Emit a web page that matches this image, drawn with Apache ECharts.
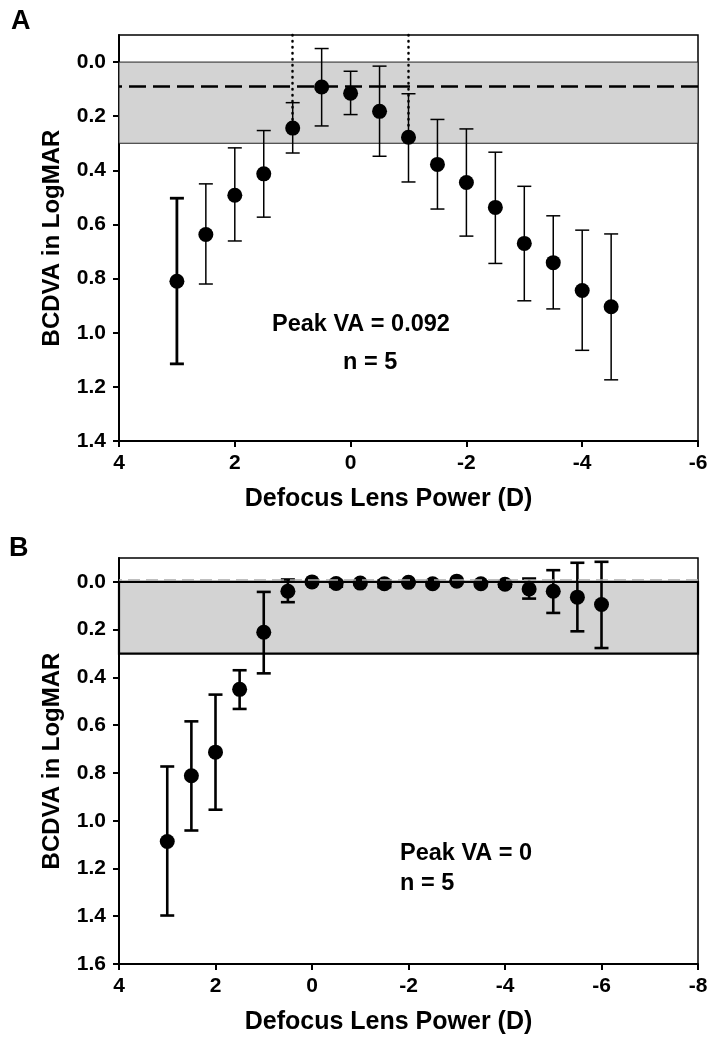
<!DOCTYPE html>
<html>
<head>
<meta charset="utf-8">
<script src="https://cdn.jsdelivr.net/npm/echarts@6/dist/echarts.min.js"></script>
<style>html,body{margin:0;padding:0;background:#fff}#c{width:719px;height:1050px}</style>
</head>
<body>
<div id="c"></div>
<script>
// ---- Panel A data ----
const xA = [3, 2.5, 2, 1.5, 1, 0.5, 0, -0.5, -1, -1.5, -2, -2.5, -3, -3.5, -4, -4.5];
const meanA = [0.810, 0.637, 0.492, 0.413, 0.244, 0.092, 0.115, 0.182, 0.278, 0.378, 0.445, 0.537, 0.670, 0.741, 0.844, 0.904];
const lowA  = [0.503, 0.450, 0.317, 0.253, 0.150, -0.050, 0.034, 0.015, 0.117, 0.212, 0.247, 0.333, 0.459, 0.568, 0.621, 0.635];
const highA = [1.115, 0.820, 0.661, 0.573, 0.336, 0.236, 0.194, 0.348, 0.443, 0.543, 0.643, 0.744, 0.882, 0.912, 1.065, 1.174];
const peakA = 0.092;
const dottedA = [[1, 0.244], [-1, 0.278]];
const yTicksA = [0, 0.2, 0.4, 0.6, 0.8, 1.0, 1.2, 1.4];

// ---- Panel B data ----
const xB = [3, 2.5, 2, 1.5, 1, 0.5, 0, -0.5, -1, -1.5, -2, -2.5, -3, -3.5, -4, -4.5, -5, -5.5, -6];
const meanB = [1.087, 0.812, 0.713, 0.450, 0.211, 0.039, 0.000, 0.007, 0.005, 0.008, 0.002, 0.008, -0.003, 0.008, 0.010, 0.030, 0.039, 0.064, 0.095];
const lowB  = [0.773, 0.584, 0.472, 0.370, 0.042, -0.010, 0.000, -0.005, 0.000, -0.006, 0.000, 0.000, -0.003, 0.000, 0.000, -0.014, -0.049, -0.080, -0.084];
const highB = [1.397, 1.041, 0.954, 0.532, 0.383, 0.085, 0.000, 0.020, 0.010, 0.022, 0.004, 0.014, -0.003, 0.012, 0.020, 0.070, 0.130, 0.207, 0.277];
const peakB = 0;
const yTicksB = [0, 0.2, 0.4, 0.6, 0.8, 1.0, 1.2, 1.4, 1.6];

const band = [0, 0.3];

const chart = echarts.init(document.getElementById('c'));
const FONT = 'Liberation Sans, Arial, sans-serif';

function errRender(widthFn) {
  return function (params, api) {
    const x = api.value(0);
    const p1 = api.coord([x, api.value(1)]);
    const p2 = api.coord([x, api.value(2)]);
    const w = 7;
    const lw = widthFn(params.dataIndex);
    const st = { stroke: '#000', lineWidth: lw };
    return {
      type: 'group',
      children: [
        { type: 'line', shape: { x1: p1[0], y1: p1[1], x2: p2[0], y2: p2[1] }, style: st },
        { type: 'line', shape: { x1: p1[0] - w, y1: p1[1], x2: p1[0] + w, y2: p1[1] }, style: st },
        { type: 'line', shape: { x1: p2[0] - w, y1: p2[1], x2: p2[0] + w, y2: p2[1] }, style: st }
      ]
    };
  };
}

function xAxisCfg(gi, min) {
  return {
    type: 'value', gridIndex: gi, min: min, max: 4, interval: 2, inverse: true,
    name: 'Defocus Lens Power (D)', nameLocation: 'middle', nameGap: 46,
    nameTextStyle: { fontFamily: FONT, fontWeight: 'bold', fontSize: 25, color: '#000', padding: [0, 40, 0, 0] },
    axisLine: { show: true, onZero: false, lineStyle: { color: '#000', width: 2 } },
    axisTick: { show: true, inside: false, length: 6, lineStyle: { color: '#000', width: 2 } },
    axisLabel: { fontFamily: FONT, fontWeight: 'bold', fontSize: 21, color: '#000', margin: 12 },
    splitLine: { show: false }
  };
}
function yAxisCfg(gi, max, ticks) {
  return {
    type: 'value', gridIndex: gi, min: -0.1, max: max, inverse: true,
    name: 'BCDVA in LogMAR', nameLocation: 'middle', nameGap: 55,
    nameTextStyle: { fontFamily: FONT, fontWeight: 'bold', fontSize: 24, color: '#000' },
    axisLine: { show: true, onZero: false, lineStyle: { color: '#000', width: 2 } },
    axisTick: { show: true, inside: false, length: 6, customValues: ticks, lineStyle: { color: '#000', width: 2 } },
    axisLabel: { fontFamily: FONT, fontWeight: 'bold', fontSize: 21, color: '#000', margin: 13, customValues: ticks,
      formatter: v => v.toFixed(1) },
    splitLine: { show: false }
  };
}

const option = {
  backgroundColor: '#fff',
  animation: false,
  grid: [
    { left: 119, top: 35, width: 579, height: 406, show: true, borderColor: '#000', borderWidth: 1.5, backgroundColor: 'transparent' },
    { left: 119, top: 558, width: 579, height: 406, show: true, borderColor: '#000', borderWidth: 1.5, backgroundColor: 'transparent' }
  ],
  xAxis: [xAxisCfg(0, -6), xAxisCfg(1, -8)],
  yAxis: [yAxisCfg(0, 1.4, yTicksA), yAxisCfg(1, 1.6, yTicksB)],
  graphic: [
    { type: 'text', left: 11, top: 8, style: { text: 'A', font: 'bold 27px ' + FONT, fill: '#000' } },
    { type: 'text', left: 9, top: 535, style: { text: 'B', font: 'bold 27px ' + FONT, fill: '#000' } },
    { type: 'text', left: 272, top: 313, style: { text: 'Peak VA = ' + peakA.toFixed(3), font: 'bold 23.5px ' + FONT, fill: '#000' } },
    { type: 'text', left: 343, top: 351, style: { text: 'n = 5', font: 'bold 23.5px ' + FONT, fill: '#000' } },
    { type: 'text', left: 400, top: 842, style: { text: 'Peak VA = ' + peakB, font: 'bold 23.5px ' + FONT, fill: '#000' } },
    { type: 'text', left: 400, top: 872, style: { text: 'n = 5', font: 'bold 23.5px ' + FONT, fill: '#000' } }
  ],
  series: [
    {
      type: 'line', xAxisIndex: 0, yAxisIndex: 0, data: [], silent: true,
      markArea: {
        silent: true,
        itemStyle: { color: '#d3d3d3', borderColor: '#222', borderWidth: 1 },
        data: [[{ yAxis: band[0] }, { yAxis: band[1] }]]
      },
      markLine: {
        silent: true, symbol: 'none', label: { show: false },
        data: [
          { yAxis: peakA, lineStyle: { color: '#000', width: 2.5, type: [17, 7], cap: 'butt' } },
          [{ coord: [dottedA[0][0], -0.1] }, { coord: dottedA[0] }],
          [{ coord: [dottedA[1][0], -0.1] }, { coord: dottedA[1] }]
        ],
        lineStyle: { color: '#000', width: 2.5, type: [0.5, 5.5], cap: 'round' }
      }
    },
    {
      type: 'custom', xAxisIndex: 0, yAxisIndex: 0, z: 3,
      renderItem: errRender(i => (i === 0 ? 2.8 : 1.5)),
      data: xA.map((x, i) => [x, lowA[i], highA[i]])
    },
    {
      type: 'scatter', xAxisIndex: 0, yAxisIndex: 0, z: 4, symbol: 'circle', symbolSize: 15,
      itemStyle: { color: '#000', opacity: 1 },
      data: xA.map((x, i) => [x, meanA[i]])
    },
    {
      type: 'line', xAxisIndex: 1, yAxisIndex: 1, data: [], silent: true,
      markArea: {
        silent: true,
        itemStyle: { color: '#d3d3d3', borderColor: '#000', borderWidth: 2.2 },
        data: [[{ yAxis: band[0] }, { yAxis: band[1] }]]
      },
      markLine: {
        silent: true, symbol: 'none', label: { show: false },
        data: [ { yAxis: peakB - 0.006 } ],
        lineStyle: { color: '#aaa', width: 1.5, type: [12, 6] }
      }
    },
    {
      type: 'custom', xAxisIndex: 1, yAxisIndex: 1, z: 3,
      renderItem: errRender(() => 2.6),
      data: xB.map((x, i) => [x, lowB[i], highB[i]])
    },
    {
      type: 'scatter', xAxisIndex: 1, yAxisIndex: 1, z: 4, symbol: 'circle', symbolSize: 15,
      itemStyle: { color: '#000', opacity: 1 },
      data: xB.map((x, i) => [x, meanB[i]])
    }
  ]
};
chart.setOption(option);
</script>
</body>
</html>
